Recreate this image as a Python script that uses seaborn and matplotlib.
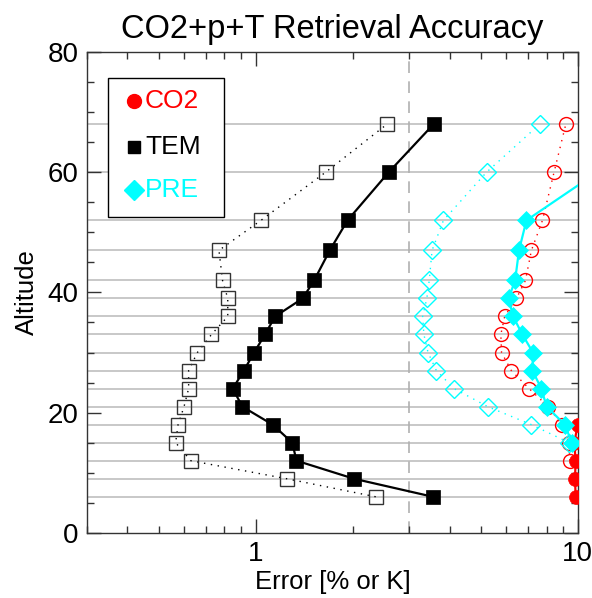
import numpy as np
import pandas as pd
import seaborn as sns
import matplotlib.pyplot as plt
from matplotlib.patches import Rectangle
from matplotlib.ticker import LogLocator, MultipleLocator, FixedLocator, NullFormatter

# altitude levels of the retrieval grid
alt_levels = [6, 9, 12, 15, 18, 21, 24, 27, 30, 33, 36, 39, 42, 47, 52, 60, 68]

# temperature error (K), solid = filled squares, dotted = open squares
tem_alt = alt_levels
tem_solid = [3.55, 2.02, 1.34, 1.30, 1.13, 0.91, 0.85, 0.92, 0.99, 1.07, 1.15, 1.40, 1.52, 1.70, 1.93, 2.59, 3.57]
tem_open = [2.36, 1.25, 0.63, 0.565, 0.575, 0.60, 0.62, 0.62, 0.66, 0.73, 0.82, 0.82, 0.79, 0.77, 1.04, 1.65, 2.56]

# pressure error (%)
pre_open_alt = [15, 18, 21, 24, 27, 30, 33, 36, 39, 42, 47, 52, 60, 68]
pre_open = [9.40, 7.18, 5.25, 4.13, 3.64, 3.43, 3.33, 3.30, 3.40, 3.46, 3.53, 3.83, 5.21, 7.62]
pre_solid_alt = [15, 18, 21, 24, 27, 30, 33, 36, 39, 42, 47, 52, 60]
pre_solid = [9.58, 9.12, 8.0, 7.71, 7.23, 7.26, 6.73, 6.30, 6.10, 6.39, 6.57, 6.93, 11.5]

# CO2 error (%)
co2_open_alt = [12, 15, 18, 21, 24, 27, 30, 33, 36, 39, 42, 47, 52, 60, 68]
co2_open = [9.45, 9.38, 8.93, 8.09, 7.06, 6.22, 5.80, 5.77, 5.93, 6.45, 6.88, 7.18, 7.77, 8.44, 9.18]
co2_solid_alt = [6, 9, 12, 15, 18]
co2_solid = [9.85, 9.8, 9.85, 9.75, 10.0]

legend_labels = ["CO2", "TEM", "PRE"]
legend_colors = ["red", "black", "cyan"]
legend_markers = ["o", "s", "D"]

sns.set_style("ticks")
plt.rcParams['font.family'] = ['Liberation Sans', 'DejaVu Sans']
plt.rcParams.update({"text.color": "black", "axes.labelcolor": "black",
                     "xtick.color": "black", "ytick.color": "black"})

fig = plt.figure(figsize=(5.92, 5.98), dpi=100)
ax = fig.add_axes([0.147, 0.109, 0.829, 0.804])

for a in alt_levels:
    ax.axhline(a, color="#c8c8c8", lw=1.4, zorder=0)
ax.axvline(3.0, color="#b0b0b0", lw=1.2, ls=(0, (7, 5)), zorder=0.5)

def draw(x, y, color, marker, filled, ms, solid):
    sns.lineplot(x=x, y=y, sort=False, estimator=None, ax=ax, color=color,
                 lw=1.6 if solid else 1.0, ls="-" if solid else (0, (1, 4)),
                 marker=marker, markersize=ms,
                 markerfacecolor=color if filled else "none",
                 markeredgecolor=color if filled else (color if color != "black" else "#333333"),
                 markeredgewidth=1.0 if not filled else 0.5, zorder=3)

draw(co2_open, co2_open_alt, "red", "o", False, 10, False)
draw(co2_solid, co2_solid_alt, "red", "o", True, 10, True)
draw(tem_open, tem_alt, "black", "s", False, 9.6, False)
draw(tem_solid, tem_alt, "black", "s", True, 9.6, True)
draw(pre_open, pre_open_alt, "cyan", "D", False, 9.5, False)
draw(pre_solid, pre_solid_alt, "cyan", "D", True, 9.5, True)

ax.set_xscale("log")
ax.set_xlim(0.3, 10)
ax.set_ylim(0, 80)
ax.xaxis.set_major_locator(FixedLocator([1, 10]))
ax.xaxis.set_major_formatter(plt.FixedFormatter(["1", "10"]))
ax.xaxis.set_minor_locator(LogLocator(base=10, subs=np.arange(2, 10)))
ax.xaxis.set_minor_formatter(NullFormatter())
ax.yaxis.set_major_locator(MultipleLocator(20))
ax.yaxis.set_minor_locator(MultipleLocator(5))
ax.tick_params(which="both", direction="in", top=True, right=True, labelsize=20, pad=6, color="#333333")
ax.tick_params(which="major", length=10, width=1)
ax.tick_params(which="minor", length=5, width=1)
for s in ax.spines.values():
    s.set_linewidth(1.0)
    s.set_color("#333333")

ax.set_xlabel("Error [% or K]", fontsize=18.5, labelpad=2)
ax.set_ylabel("Altitude", fontsize=18.5, labelpad=6)
ax.set_title("CO2+p+T Retrieval Accuracy", fontsize=23.5, pad=10)

# boxed legend: coloured symbol + coloured label
ax.add_patch(Rectangle((0.043, 0.657), 0.236, 0.289, transform=ax.transAxes,
                       facecolor="white", edgecolor="black", lw=1.0, zorder=5))
leg_y = [0.898, 0.8035, 0.713]
leg_ms = [10, 9, 9.7]
for lab, col, mk, yy, ms in zip(legend_labels, legend_colors, legend_markers, leg_y, leg_ms):
    ax.plot([0.0957], [yy], marker=mk, color=col, ms=ms, ls="none",
            transform=ax.transAxes, zorder=6, clip_on=False)
    ax.text(0.118, yy, lab, color=col, fontsize=19, va="center", ha="left",
            transform=ax.transAxes, zorder=6)

fig.savefig("out.png", dpi=100)
